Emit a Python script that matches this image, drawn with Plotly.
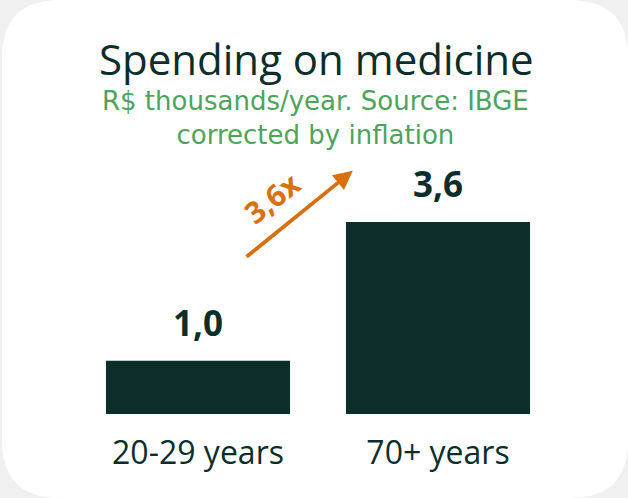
import plotly.graph_objects as go

# Data
categories = ["20-29 years", "70+ years"]
spending = [1.0, 3.6]          # R$ thousands / year
ratio_label = "3,6x"

title = "Spending on medicine"
subtitle_lines = ["R$ thousands/year. Source: IBGE", "corrected by inflation"]

# Styling
W, H = 628, 498
DARK = "#0c2e2b"
GREEN = "#4ea35d"
ORANGE = "#d8700f"
BG = "#f0f0f0"
FONT = "Open Sans"
SUB_FONT = "DejaVu Sans"

def px_x(x):
    return x / W

def px_y(y):
    return 1 - y / H

# Plot area (pixels)
x0, x1 = 78, 558
y_bottom, y_top = 414, 163.3
y_max = 4.7

fig = go.Figure()

fig.add_trace(go.Bar(
    x=categories,
    y=spending,
    marker=dict(color=DARK, line=dict(width=0)),
    hoverinfo="skip",
))

# Value labels above each bar
for cat, val in zip(categories, spending):
    fig.add_annotation(
        x=cat, y=val, xref="x", yref="y",
        text=f"{val:.1f}".replace(".", ","),
        showarrow=False, yanchor="bottom", yshift=13,
        font=dict(family=FONT, size=35, color=DARK, weight="bold"),
    )

# Growth arrow between the two bars
fig.add_annotation(
    x=0.645, y=4.56, ax=0.196, ay=2.925,
    xref="x", yref="y", axref="x", ayref="y",
    text="", showarrow=True,
    arrowhead=2, arrowsize=1.0, arrowwidth=3.8, arrowcolor=ORANGE,
    standoff=0, startstandoff=0,
)
fig.add_annotation(
    x=0.31, y=4.05, xref="x", yref="y",
    text=ratio_label, showarrow=False, textangle=-38,
    font=dict(family=FONT, size=30, color=ORANGE, weight="bold"),
)

# Title and subtitle
fig.add_annotation(
    x=px_x(316), y=px_y(28), xref="paper", yref="paper",
    text=title, showarrow=False, xanchor="center", yanchor="top",
    font=dict(family=FONT, size=42, color=DARK),
)
fig.add_annotation(
    x=px_x(315), y=px_y(84), xref="paper", yref="paper",
    text="<br>".join(subtitle_lines), showarrow=False,
    xanchor="center", yanchor="top", align="center",
    font=dict(family=SUB_FONT, size=26, color=GREEN),
)

# Rounded white card
r = 58
cx0, cx1, cy0, cy1 = 2, 628, 0, 498
def P(x, y):
    return f"{px_x(x):.5f},{px_y(y):.5f}"
card = (
    f"M {P(cx0 + r, cy0)} L {P(cx1 - r, cy0)} Q {P(cx1, cy0)} {P(cx1, cy0 + r)} "
    f"L {P(cx1, cy1 - r)} Q {P(cx1, cy1)} {P(cx1 - r, cy1)} "
    f"L {P(cx0 + r, cy1)} Q {P(cx0, cy1)} {P(cx0, cy1 - r)} "
    f"L {P(cx0, cy0 + r)} Q {P(cx0, cy0)} {P(cx0 + r, cy0)} Z"
)
fig.add_shape(type="path", path=card, xref="paper", yref="paper",
              fillcolor="white", line=dict(width=0), layer="below")

fig.update_layout(
    width=W, height=H,
    margin=dict(l=0, r=0, t=0, b=0),
    paper_bgcolor=BG, plot_bgcolor="rgba(0,0,0,0)",
    showlegend=False,
    bargap=0.233,
    xaxis=dict(
        domain=[px_x(x0), px_x(x1)],
        range=[-0.5, 1.5],
        showgrid=False, zeroline=False, showline=False,
        ticks="outside", ticklen=11, tickcolor="rgba(0,0,0,0)",
        tickfont=dict(family=FONT, size=32, color=DARK),
        fixedrange=True,
    ),
    yaxis=dict(
        domain=[px_y(y_bottom), px_y(y_top)],
        range=[0, y_max],
        visible=False, fixedrange=True,
    ),
)

fig.write_html("out.html")
